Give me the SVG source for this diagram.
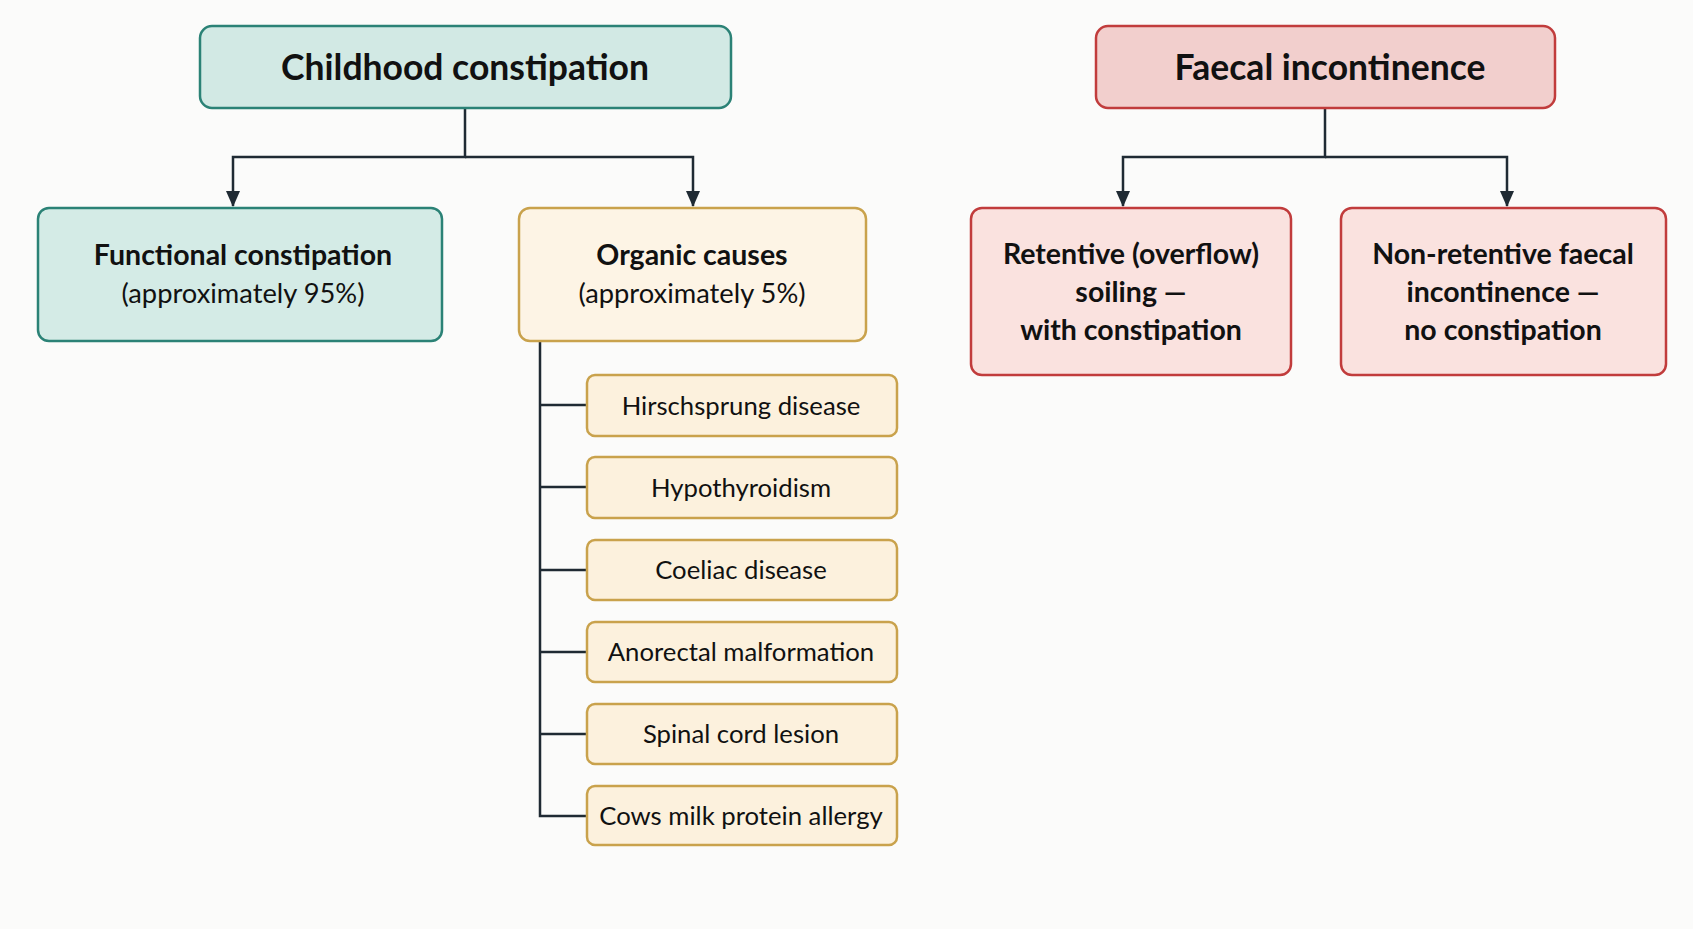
<svg xmlns="http://www.w3.org/2000/svg" width="1693" height="929" viewBox="0 0 1693 929">
<defs>
<marker id="arr" markerWidth="16" markerHeight="14" refX="15" refY="7" orient="auto" markerUnits="userSpaceOnUse" viewBox="0 0 16 14">
<path d="M0,0 L16,7 L0,14 Z" fill="#1f2a33"/>
</marker>
<style>
.bg{fill:#fbfbfa}
.teal{fill:#d4ebe6;stroke:#2b8276;stroke-width:2.5}
.tealtop{fill:#d2e9e4;stroke:#2b8276;stroke-width:2.5}
.gold{fill:#fdf4e5;stroke:#c9a24c;stroke-width:2.5}
.sub{fill:#fcf1dd;stroke:#c9a24c;stroke-width:2.5}
.redtop{fill:#f2cfcd;stroke:#c13c3c;stroke-width:2.5}
.red{fill:#fae2df;stroke:#c13c3c;stroke-width:2.5}
.ln{fill:none;stroke:#1f2a33;stroke-width:2.5}
text{font-family:Lato,"Open Sans","Liberation Sans",sans-serif;fill:#111;text-anchor:middle}
.t1{font-size:35.5px;font-weight:700}
.b{font-size:28.5px;font-weight:700}
.r{font-size:27.3px;font-weight:400}
.s{font-size:25.7px;font-weight:400}
</style>
</defs>
<rect class="bg" x="0" y="0" width="1693" height="929"/>
<g id="connectors">
<path class="ln" d="M465,108 V157 H233 V206" marker-end="url(#arr)"/>
<path class="ln" d="M465,157 H693 V206" marker-end="url(#arr)"/>
<path class="ln" d="M1325,108 V157 H1123 V206" marker-end="url(#arr)"/>
<path class="ln" d="M1325,157 H1507 V206" marker-end="url(#arr)"/>
<path class="ln" d="M540,341 V816 H587"/>
<path class="ln" d="M540,405 H587 M540,487 H587 M540,570 H587 M540,652 H587 M540,734 H587"/>
</g>
<g id="childhood">
<rect class="tealtop" x="200" y="26" width="531" height="82" rx="12"/>
<text class="t1" x="465" y="80">Childhood constipation</text>
</g>
<g id="functional">
<rect class="teal" x="38" y="208" width="404" height="133" rx="11"/>
<text class="b" x="243" y="265">Functional constipation</text>
<text class="r" x="243" y="303">(approximately 95%)</text>
</g>
<g id="organic">
<rect class="gold" x="519" y="208" width="347" height="133" rx="11"/>
<text class="b" x="692" y="265">Organic causes</text>
<text class="r" x="692" y="303">(approximately 5%)</text>
</g>
<g id="hirschsprung">
<rect class="sub" x="587" y="375" width="310" height="61" rx="8"/>
<text class="s" x="741" y="415">Hirschsprung disease</text>
</g>
<g id="hypothyroidism">
<rect class="sub" x="587" y="457" width="310" height="61" rx="8"/>
<text class="s" x="741" y="497">Hypothyroidism</text>
</g>
<g id="coeliac">
<rect class="sub" x="587" y="540" width="310" height="60" rx="8"/>
<text class="s" x="741" y="579">Coeliac disease</text>
</g>
<g id="anorectal">
<rect class="sub" x="587" y="622" width="310" height="60" rx="8"/>
<text class="s" x="741" y="661">Anorectal malformation</text>
</g>
<g id="spinal">
<rect class="sub" x="587" y="704" width="310" height="60" rx="8"/>
<text class="s" x="741" y="743">Spinal cord lesion</text>
</g>
<g id="cows">
<rect class="sub" x="587" y="786" width="310" height="59" rx="8"/>
<text class="s" x="741" y="825">Cows milk protein allergy</text>
</g>
<g id="faecal">
<rect class="redtop" x="1096" y="26" width="459" height="82" rx="12"/>
<text class="t1" x="1330" y="80">Faecal incontinence</text>
</g>
<g id="retentive">
<rect class="red" x="971" y="208" width="320" height="167" rx="11"/>
<text class="b" x="1131" y="264">Retentive (overflow)</text>
<text class="b" x="1131" y="302">soiling —</text>
<text class="b" x="1131" y="340">with constipation</text>
</g>
<g id="nonretentive">
<rect class="red" x="1341" y="208" width="325" height="167" rx="11"/>
<text class="b" x="1503" y="264">Non-retentive faecal</text>
<text class="b" x="1503" y="302">incontinence —</text>
<text class="b" x="1503" y="340">no constipation</text>
</g>
</svg>
